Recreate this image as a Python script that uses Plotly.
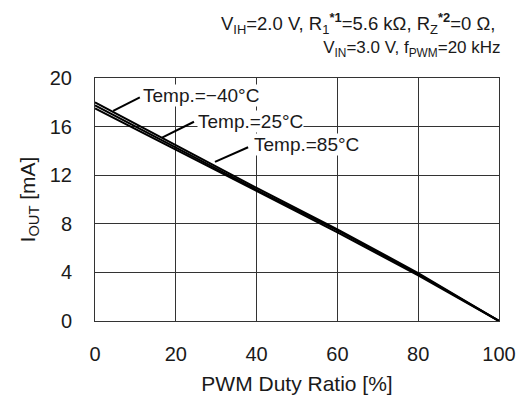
import plotly.graph_objects as go

duty = [0, 20, 40, 60, 80, 100]
iout_m40 = [18.0, 14.5, 10.95, 7.55, 3.95, 0.0]
iout_25 = [17.75, 14.3, 10.8, 7.45, 3.85, 0.0]
iout_85 = [17.5, 14.1, 10.65, 7.3, 3.75, 0.0]

labels = ["Temp.=\u221240\u00b0C", "Temp.=25\u00b0C", "Temp.=85\u00b0C"]
label_x = [11.6, 25.2, 39.1]
label_y = [18.6, 16.45, 14.5]
leader_x0 = [4.5, 16.6, 29.7]
leader_y0 = [17.3, 15.1, 13.1]
leader_x1 = [11.1, 24.5, 37.9]
leader_y1 = [18.4, 16.4, 14.3]

x_ticks = [0, 20, 40, 60, 80, 100]
y_ticks = [0, 4, 8, 12, 16, 20]

FONT = "Liberation Sans, Arial, sans-serif"

fig = go.Figure()
for ys in (iout_m40, iout_25, iout_85):
    fig.add_trace(go.Scatter(x=duty, y=ys, mode="lines",
                             line=dict(color="black", width=2), showlegend=False))

for i in range(3):
    fig.add_shape(type="line", x0=leader_x0[i], y0=leader_y0[i], x1=leader_x1[i], y1=leader_y1[i],
                  xref="x", yref="y", line=dict(color="black", width=2))
    fig.add_annotation(x=label_x[i], y=label_y[i], text=labels[i], showarrow=False,
                       xanchor="left", yanchor="middle", bgcolor="white", borderpad=0,
                       font=dict(family=FONT, size=19, color="#1a1a1a"))

title_text = ("<span style='font-size:18.5px'>V<sub>IH</sub>=2.0 V, R<sub>1</sub><sup><b>*1</b></sup>=5.6 k\u03a9, "
              "R<sub>Z</sub><sup><b>*2</b></sup>=0 \u03a9,\u00a0</span><br>"
              "<span style='font-size:17px'>V<sub>IN</sub>=3.0 V, f<sub>PWM</sub>=20 kHz</span>")
fig.add_annotation(xref="paper", yref="paper", x=1.0, y=1.0, yshift=70, xshift=4, xanchor="right", yanchor="top",
                   align="right", showarrow=False, text=title_text,
                   font=dict(family=FONT, size=18, color="#1a1a1a"))

axis_common = dict(showline=True, linecolor="#333", linewidth=1, mirror=True, automargin=False,
                   showgrid=True, gridcolor="#333", gridwidth=1, zeroline=False,
                   ticks="", tickfont=dict(family=FONT, size=20, color="#1a1a1a"))

fig.update_xaxes(range=[0, 100], tickvals=x_ticks, ticklabelstandoff=15,
                 title=dict(text="PWM Duty Ratio [%]", font=dict(family=FONT, size=21, color="#1a1a1a"), standoff=12),
                 **axis_common)
fig.update_yaxes(range=[0, 20], tickvals=y_ticks, ticklabelstandoff=18,
                 title=dict(text="I<sub>OUT</sub> [mA]", font=dict(family=FONT, size=21, color="#1a1a1a"), standoff=8),
                 **axis_common)

fig.update_layout(width=521, height=409, margin=dict(l=95, r=22, t=78, b=88),
                  plot_bgcolor="white", paper_bgcolor="white", font=dict(family=FONT))

fig.write_html("out.html", config={"displayModeBar": False},
               post_script="document.body.style.margin='0px';")
